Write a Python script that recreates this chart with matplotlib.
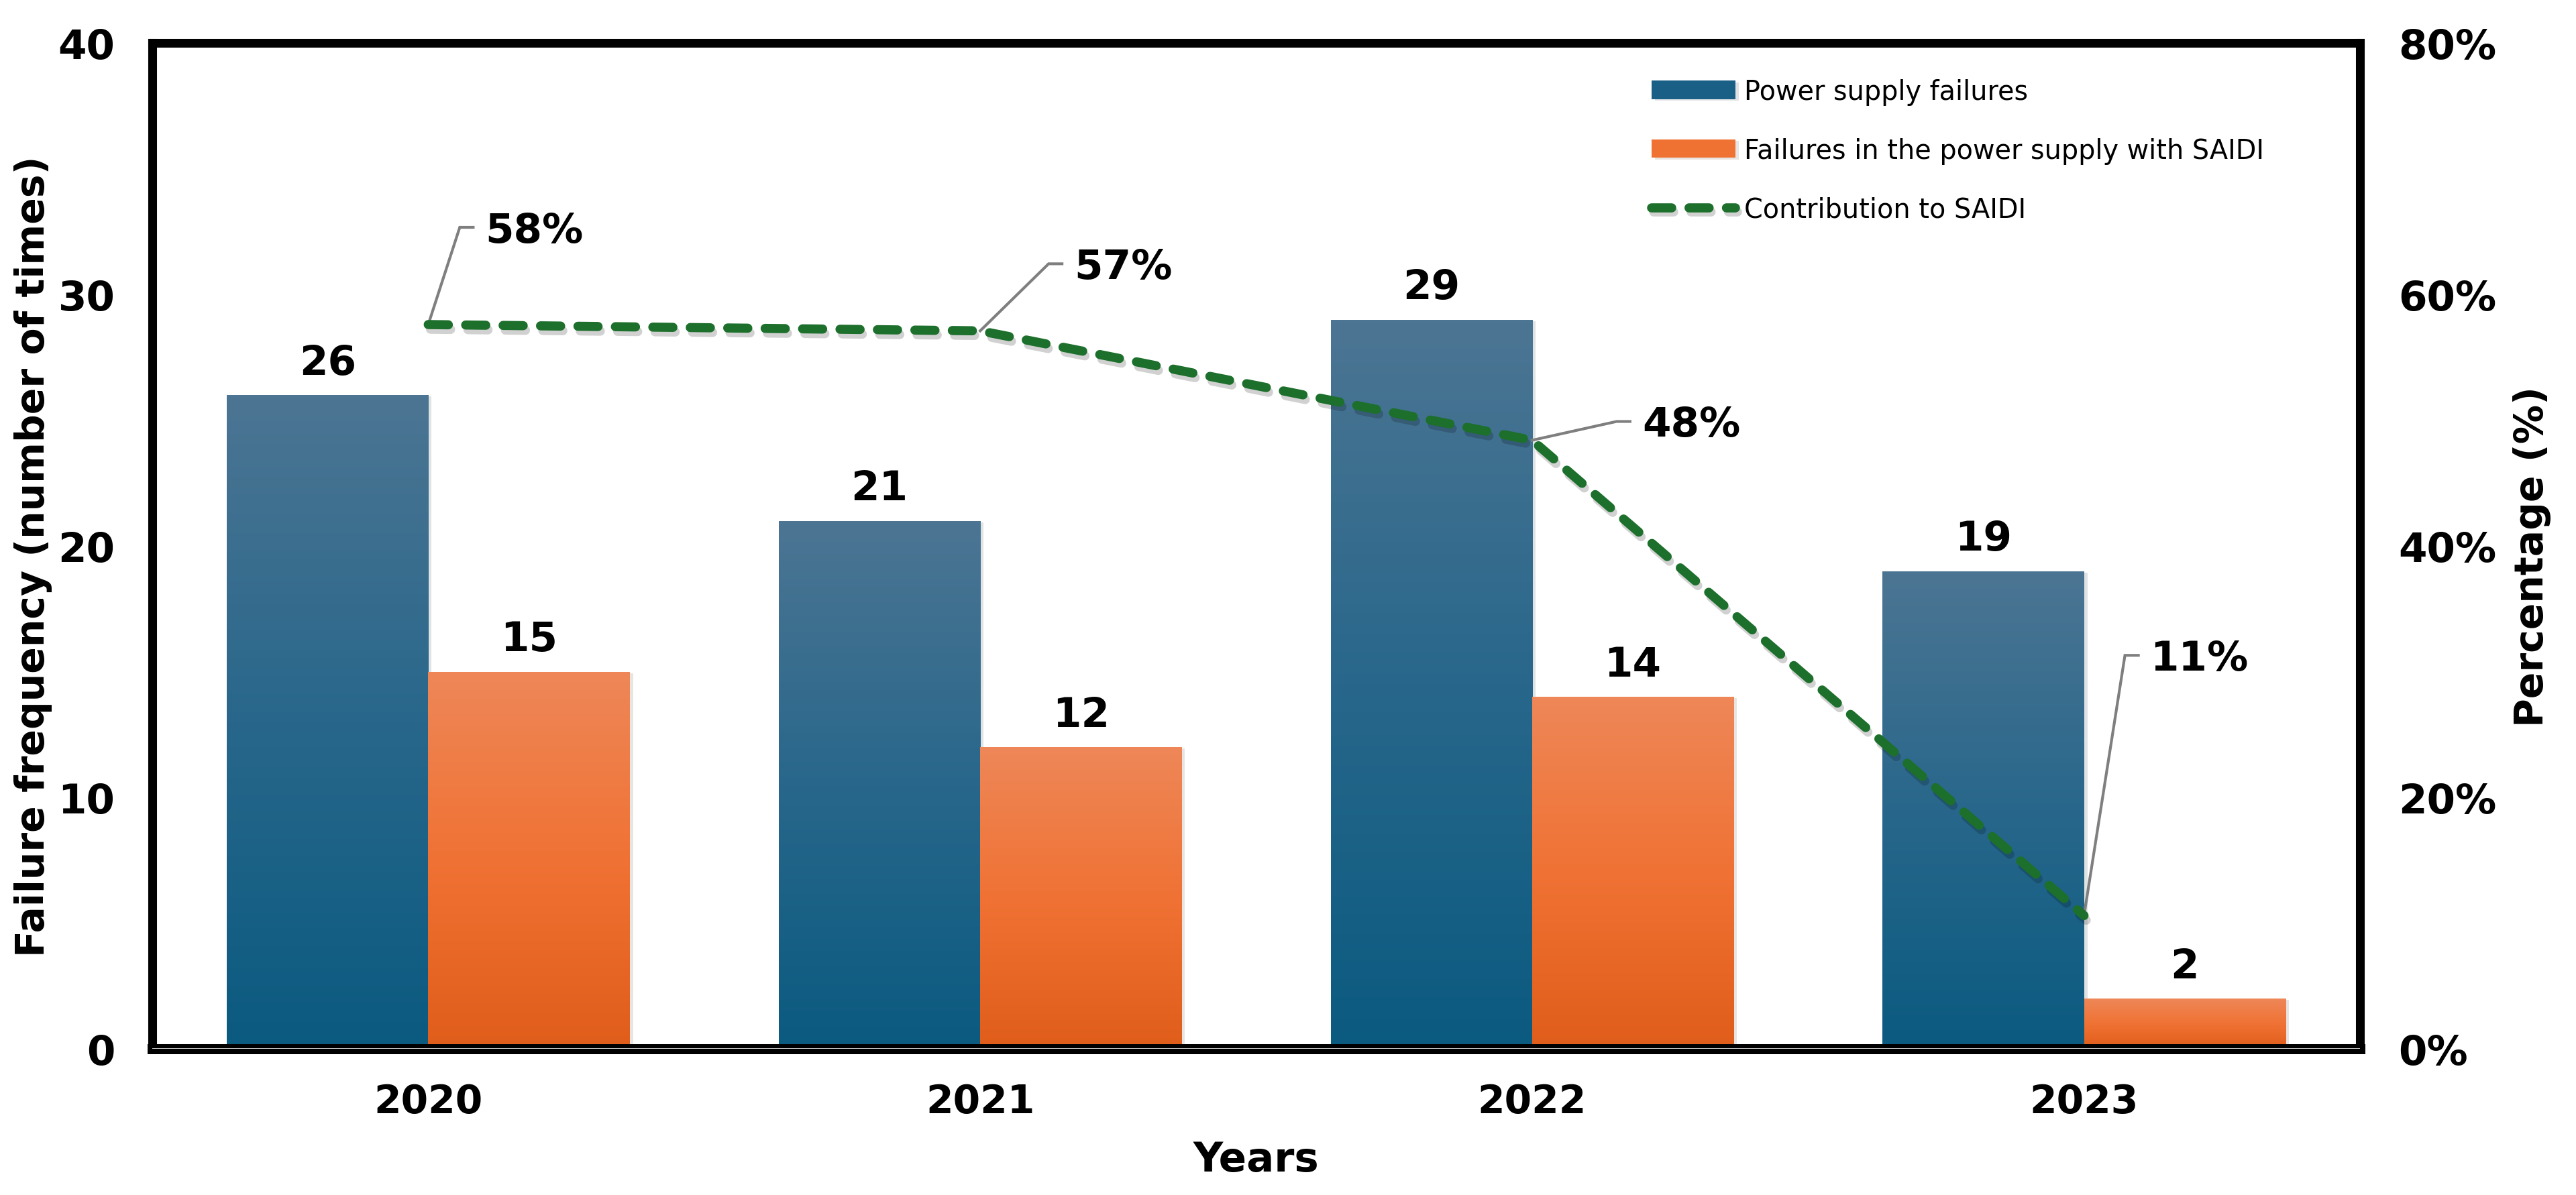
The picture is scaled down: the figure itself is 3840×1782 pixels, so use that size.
import numpy as np
import matplotlib
matplotlib.use("Agg")
import matplotlib.pyplot as plt
import matplotlib.transforms as mtransforms
import matplotlib.patheffects as pe
from matplotlib.colors import LinearSegmentedColormap

plt.rcParams['font.family'] = ['DejaVu Sans']

# data
years = ['2020', '2021', '2022', '2023']
failures = [26, 21, 29, 19]
failures_saidi = [15, 12, 14, 2]
contribution = [57.6, 57.1, 48.4, 10.6]   # percent
contribution_labels = ['58%', '57%', '48%', '11%']

# label placement (pixels right / up of the point, to the label's left-centre)
label_offsets = [(85, 145), (140, 100), (164, 28), (99, 388)]

blue_grad = ['#0b5a80', '#28678b', '#4c7593']      # bottom -> top
orange_grad = ['#e05d1a', '#f07234', '#ee8758']
blue = '#1a5f86'
orange = '#ef7232'
green = '#1d6f2c'

W, H, DPI = 3841, 1783, 200
fig = plt.figure(figsize=(W / DPI, H / DPI), dpi=DPI)
ax = fig.add_axes([227 / W, 1 - 1565 / H, (3518 - 227) / W, 1500 / H])
ax2 = ax.twinx()

x = np.arange(len(years))
w = 0.365
grad = np.linspace(0, 1, 256).reshape(-1, 1)


def gradient_bars(xs, hs, colors, solid, label):
    cmap = LinearSegmentedColormap.from_list(label, colors)
    bars = ax.bar(xs, hs, w, color=solid, label=label, zorder=2,
                  path_effects=[pe.SimplePatchShadow(offset=(1.8, -0.8), alpha=0.12),
                                pe.Normal()])
    for b in bars:
        x0 = b.get_x()
        img = ax.imshow(grad, cmap=cmap, origin='lower', aspect='auto',
                        extent=(x0, x0 + b.get_width(), 0, b.get_height()),
                        interpolation='bicubic', zorder=2.1)
        img.set_clip_path(b)
    for xi, hi in zip(xs, hs):
        ax.annotate(str(hi), (xi, hi), xytext=(0, 31), textcoords='offset pixels',
                    ha='center', va='baseline', fontsize=22, fontweight='bold',
                    zorder=5)
    return bars


gradient_bars(x - w / 2, failures, blue_grad, blue, 'Power supply failures')
gradient_bars(x + w / 2, failures_saidi, orange_grad, orange,
              'Failures in the power supply with SAIDI')

ax.set_xlim(-0.5, 3.5)
ax.set_ylim(0, 40)
ax.set_yticks([0, 10, 20, 30, 40])
ax.set_xticks(x)
ax.set_xticklabels(years)
for t in ax.get_xticklabels() + ax.get_yticklabels():
    t.set_fontweight('bold')
ax.tick_params(axis='y', length=0, pad=20, labelsize=22)
ax.tick_params(axis='x', length=0, pad=18, labelsize=21)

for side in ['left', 'right', 'top']:
    ax.spines[side].set_linewidth(4.7)
ax.spines['bottom'].set_linewidth(5.4)
for s in ax2.spines.values():
    s.set_visible(False)
ax.axhline(0, color='#d8d8d8', lw=1.0, zorder=6)

ax.set_ylabel('Failure frequency (number of times)', fontsize=21,
              fontweight='bold', va='center')
ax.yaxis.set_label_coords(-0.0538, 0.49)
ax.set_xlabel('Years', fontsize=22, fontweight='bold', va='center')
ax.xaxis.set_label_coords(0.5, -0.11)

# contribution line on the right axis
line, = ax2.plot(x, contribution, color=green, lw=4.9, ls=(0, (2.2, 1.9)),
                 dash_capstyle='round', solid_capstyle='round',
                 label='Contribution to SAIDI', zorder=3,
                 path_effects=[pe.SimpleLineShadow(offset=(1.2, -2.5), alpha=0.18),
                               pe.Normal()])
ax2.set_ylim(0, 80)
ax2.set_yticks([0, 20, 40, 60, 80])
ax2.set_yticklabels([f'{v}%' for v in [0, 20, 40, 60, 80]])
for t in ax2.get_yticklabels():
    t.set_fontweight('bold')
ax2.tick_params(axis='y', length=0, pad=20.5, labelsize=22)
ax2.set_ylabel('Percentage (%)', fontsize=21, fontweight='bold',
               rotation=90, va='center')
ax2.yaxis.set_label_coords(1.078, 0.49)

# percentage labels with bent grey leader lines
for xi, v, txt, (dx, dy) in zip(x, contribution, contribution_labels, label_offsets):
    ax2.annotate(txt, (xi, v), xytext=(dx, dy - 22), textcoords='offset pixels',
                 ha='left', va='baseline', fontsize=22, fontweight='bold', zorder=6)
    tr = mtransforms.IdentityTransform() + mtransforms.ScaledTranslation(xi, v, ax2.transData)
    ax2.plot([0, dx - 38, dx - 18], [0, dy, dy], color='#7f7f7f', lw=1.5,
             transform=tr, zorder=2.5, solid_joinstyle='miter')

h1, l1 = ax.get_legend_handles_labels()
h2, l2 = ax2.get_legend_handles_labels()
leg = ax2.legend(h1 + h2, l1 + l2, loc='upper left',
                 bbox_to_anchor=(2462 / W, 1 - 118 / H), bbox_transform=fig.transFigure,
                 frameon=False, fontsize=14.3, borderpad=0, borderaxespad=0,
                 handlelength=3.15, handleheight=0.68, handletextpad=0.33,
                 labelspacing=1.2)

fig.savefig('out.png', dpi=DPI)
